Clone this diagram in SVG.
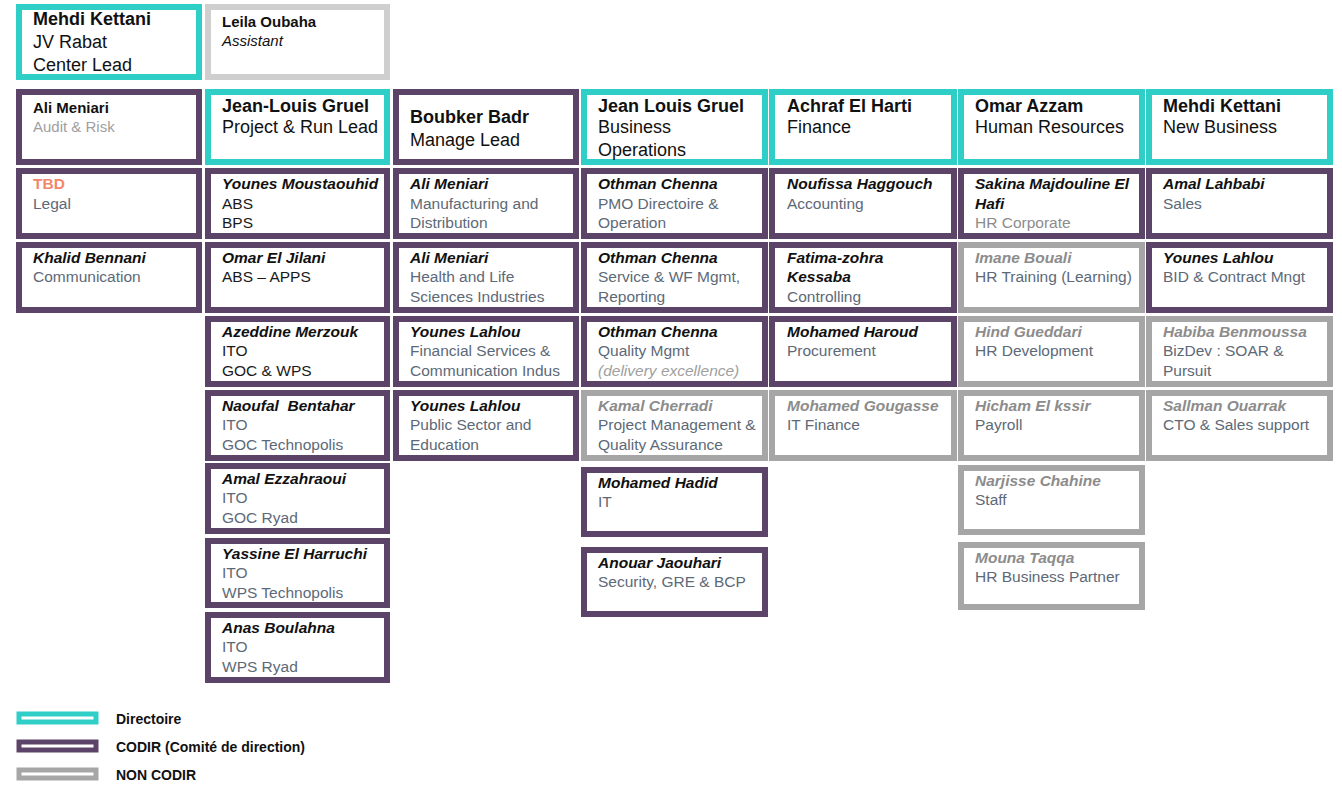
<svg xmlns="http://www.w3.org/2000/svg" width="1342" height="812" viewBox="0 0 1342 812">
<style>
text{font-family:"Liberation Sans",Arial,sans-serif;}
.dir{fill:#fff;stroke:#2fcfc7;stroke-width:6;}
.cod{fill:#fff;stroke:#5c4468;stroke-width:6;}
.non{fill:#fff;stroke:#a6a6a6;stroke-width:6;}
.ast{fill:#fff;stroke:#cfcfcf;stroke-width:6;}
.h{font-size:18px;fill:#111;}
.hb{font-size:18px;font-weight:bold;fill:#111;}
.s{font-size:15px;fill:#111;}
.sb{font-size:15px;font-weight:bold;fill:#111;}
.n{font-size:15.5px;font-weight:bold;font-style:italic;fill:#111;}
.ng{font-size:15.5px;font-weight:bold;font-style:italic;fill:#8c8c8c;}
.t{font-size:15.5px;fill:#5d6977;}
.tk{font-size:15.5px;fill:#1a1a1a;}
.tg{font-size:15.5px;fill:#8c8c8c;}
.lg{font-size:14px;font-weight:bold;fill:#111;}
</style>
<rect width="1342" height="812" fill="#fff"/>

<!-- Row 1 -->
<g id="mehdi-kettani-jv"><rect class="dir" x="19" y="7" width="180" height="70"/>
<text class="hb" x="33" y="25">Mehdi Kettani</text><text class="h" x="33" y="48">JV Rabat</text><text class="h" x="33" y="71">Center Lead</text></g>
<g id="leila-oubaha"><rect class="ast" x="208" y="7" width="179" height="70"/>
<text class="sb" x="222" y="27">Leila Oubaha</text><text class="s" x="222" y="46" font-style="italic">Assistant</text></g>

<!-- Row 2 -->
<g id="ali-meniari-audit"><rect class="cod" x="19" y="92" width="180" height="70"/>
<text class="sb" x="33" y="113">Ali Meniari</text><text class="s" x="33" y="132" style="fill:#a0a0a0">Audit &amp; Risk</text></g>
<g id="jean-louis-gruel-project"><rect class="dir" x="208" y="92" width="179" height="70"/>
<text class="hb" x="222" y="112">Jean-Louis Gruel</text><text class="h" x="222" y="133">Project &amp; Run Lead</text></g>
<g id="boubker-badr"><rect class="cod" x="396" y="92" width="180" height="70"/>
<text class="hb" x="410" y="123">Boubker Badr</text><text class="h" x="410" y="146">Manage Lead</text></g>
<g id="jean-louis-gruel-business"><rect class="dir" x="584" y="92" width="181" height="70"/>
<text class="hb" x="598" y="112">Jean Louis Gruel</text><text class="h" x="598" y="133">Business</text><text class="h" x="598" y="156">Operations</text></g>
<g id="achraf-el-harti"><rect class="dir" x="772" y="92" width="182" height="70"/>
<text class="hb" x="787" y="112">Achraf El Harti</text><text class="h" x="787" y="133">Finance</text></g>
<g id="omar-azzam"><rect class="dir" x="961" y="92" width="181" height="70"/>
<text class="hb" x="975" y="112">Omar Azzam</text><text class="h" x="975" y="133">Human Resources</text></g>
<g id="mehdi-kettani-nb"><rect class="dir" x="1149" y="92" width="181" height="70"/>
<text class="hb" x="1163" y="112">Mehdi Kettani</text><text class="h" x="1163" y="133">New Business</text></g>

<!-- Column 1 -->
<g id="tbd-legal"><rect class="cod" x="19" y="171" width="180" height="65"/>
<text x="33" y="189" style="font-size:15.5px;font-weight:bold;fill:#f4876b">TBD</text><text class="t" x="33" y="209">Legal</text></g>
<g id="khalid-bennani"><rect class="cod" x="19" y="245" width="180" height="65"/>
<text class="n" x="33" y="263">Khalid Bennani</text><text class="t" x="33" y="282">Communication</text></g>

<!-- Column 2 -->
<g id="younes-moustaouhid"><rect class="cod" x="208" y="171" width="179" height="65"/>
<text class="n" x="222" y="189">Younes Moustaouhid</text><text class="tk" x="222" y="209">ABS</text><text class="tk" x="222" y="228">BPS</text></g>
<g id="omar-el-jilani"><rect class="cod" x="208" y="245" width="179" height="65"/>
<text class="n" x="222" y="263">Omar El Jilani</text><text class="tk" x="222" y="282">ABS – APPS</text></g>
<g id="azeddine-merzouk"><rect class="cod" x="208" y="319" width="179" height="65"/>
<text class="n" x="222" y="337">Azeddine Merzouk</text><text class="tk" x="222" y="356">ITO</text><text class="tk" x="222" y="376">GOC &amp; WPS</text></g>
<g id="naoufal-bentahar"><rect class="cod" x="208" y="393" width="179" height="65"/>
<text class="n" x="222" y="411" xml:space="preserve">Naoufal  Bentahar</text><text class="t" x="222" y="430">ITO</text><text class="t" x="222" y="450">GOC Technopolis</text></g>
<g id="amal-ezzahraoui"><rect class="cod" x="208" y="466" width="179" height="65"/>
<text class="n" x="222" y="484">Amal Ezzahraoui</text><text class="t" x="222" y="503">ITO</text><text class="t" x="222" y="523">GOC Ryad</text></g>
<g id="yassine-el-harruchi"><rect class="cod" x="208" y="541" width="179" height="64"/>
<text class="n" x="222" y="559">Yassine El Harruchi</text><text class="t" x="222" y="578">ITO</text><text class="t" x="222" y="598">WPS Technopolis</text></g>
<g id="anas-boulahna"><rect class="cod" x="208" y="615" width="179" height="65"/>
<text class="n" x="222" y="633">Anas Boulahna</text><text class="t" x="222" y="652">ITO</text><text class="t" x="222" y="672">WPS Ryad</text></g>

<!-- Column 3 -->
<g id="ali-meniari-manufacturing"><rect class="cod" x="396" y="171" width="180" height="65"/>
<text class="n" x="410" y="189">Ali Meniari</text><text class="t" x="410" y="209">Manufacturing and</text><text class="t" x="410" y="228">Distribution</text></g>
<g id="ali-meniari-health"><rect class="cod" x="396" y="245" width="180" height="65"/>
<text class="n" x="410" y="263">Ali Meniari</text><text class="t" x="410" y="282">Health and Life</text><text class="t" x="410" y="302">Sciences Industries</text></g>
<g id="younes-lahlou-financial"><rect class="cod" x="396" y="319" width="180" height="65"/>
<text class="n" x="410" y="337">Younes Lahlou</text><text class="t" x="410" y="356">Financial Services &amp;</text><text class="t" x="410" y="376">Communication Indus</text></g>
<g id="younes-lahlou-public"><rect class="cod" x="396" y="393" width="180" height="65"/>
<text class="n" x="410" y="411">Younes Lahlou</text><text class="t" x="410" y="430">Public Sector and</text><text class="t" x="410" y="450">Education</text></g>

<!-- Column 4 -->
<g id="othman-chenna-pmo"><rect class="cod" x="584" y="171" width="181" height="65"/>
<text class="n" x="598" y="189">Othman Chenna</text><text class="t" x="598" y="209">PMO Directoire &amp;</text><text class="t" x="598" y="228">Operation</text></g>
<g id="othman-chenna-service"><rect class="cod" x="584" y="245" width="181" height="65"/>
<text class="n" x="598" y="263">Othman Chenna</text><text class="t" x="598" y="282">Service &amp; WF Mgmt,</text><text class="t" x="598" y="302">Reporting</text></g>
<g id="othman-chenna-quality"><rect class="cod" x="584" y="319" width="181" height="65"/>
<text class="n" x="598" y="337">Othman Chenna</text><text class="t" x="598" y="356">Quality Mgmt</text><text class="tg" x="598" y="376" font-style="italic" style="fill:#a0a0a0">(delivery excellence)</text></g>
<g id="kamal-cherradi"><rect class="non" x="584" y="393" width="181" height="65"/>
<text class="ng" x="598" y="411">Kamal Cherradi</text><text class="t" x="598" y="430">Project Management &amp;</text><text class="t" x="598" y="450">Quality Assurance</text></g>
<g id="mohamed-hadid"><rect class="cod" x="584" y="470" width="181" height="64"/>
<text class="n" x="598" y="488">Mohamed Hadid</text><text class="t" x="598" y="507">IT</text></g>
<g id="anouar-jaouhari"><rect class="cod" x="584" y="550" width="181" height="64"/>
<text class="n" x="598" y="568">Anouar Jaouhari</text><text class="t" x="598" y="587">Security, GRE &amp; BCP</text></g>

<!-- Column 5 -->
<g id="noufissa-haggouch"><rect class="cod" x="772" y="171" width="182" height="65"/>
<text class="n" x="787" y="189">Noufissa Haggouch</text><text class="t" x="787" y="209">Accounting</text></g>
<g id="fatima-zohra-kessaba"><rect class="cod" x="772" y="245" width="182" height="65"/>
<text class="n" x="787" y="263">Fatima-zohra</text><text class="n" x="787" y="282">Kessaba</text><text class="t" x="787" y="302">Controlling</text></g>
<g id="mohamed-haroud"><rect class="cod" x="772" y="319" width="182" height="65"/>
<text class="n" x="787" y="337">Mohamed Haroud</text><text class="t" x="787" y="356">Procurement</text></g>
<g id="mohamed-gougasse"><rect class="non" x="772" y="393" width="182" height="65"/>
<text class="ng" x="787" y="411">Mohamed Gougasse</text><text class="t" x="787" y="430">IT Finance</text></g>

<!-- Column 6 -->
<g id="sakina-majdouline"><rect class="cod" x="961" y="171" width="181" height="65"/>
<text class="n" x="975" y="189">Sakina Majdouline El</text><text class="n" x="975" y="209">Hafi</text><text class="tg" x="975" y="228">HR Corporate</text></g>
<g id="imane-bouali"><rect class="non" x="961" y="245" width="181" height="65"/>
<text class="ng" x="975" y="263">Imane Bouali</text><text class="t" x="975" y="282">HR Training (Learning)</text></g>
<g id="hind-gueddari"><rect class="non" x="961" y="319" width="181" height="65"/>
<text class="ng" x="975" y="337">Hind Gueddari</text><text class="t" x="975" y="356">HR Development</text></g>
<g id="hicham-el-kssir"><rect class="non" x="961" y="393" width="181" height="65"/>
<text class="ng" x="975" y="411">Hicham El kssir</text><text class="t" x="975" y="430">Payroll</text></g>
<g id="narjisse-chahine"><rect class="non" x="961" y="468" width="181" height="64"/>
<text class="ng" x="975" y="486">Narjisse Chahine</text><text class="t" x="975" y="505">Staff</text></g>
<g id="mouna-taqqa"><rect class="non" x="961" y="545" width="181" height="62"/>
<text class="ng" x="975" y="563">Mouna Taqqa</text><text class="t" x="975" y="582">HR Business Partner</text></g>

<!-- Column 7 -->
<g id="amal-lahbabi"><rect class="cod" x="1149" y="171" width="181" height="65"/>
<text class="n" x="1163" y="189">Amal Lahbabi</text><text class="t" x="1163" y="209">Sales</text></g>
<g id="younes-lahlou-bid"><rect class="cod" x="1149" y="245" width="181" height="65"/>
<text class="n" x="1163" y="263">Younes Lahlou</text><text class="t" x="1163" y="282">BID &amp; Contract Mngt</text></g>
<g id="habiba-benmoussa"><rect class="non" x="1149" y="319" width="181" height="65"/>
<text class="ng" x="1163" y="337">Habiba Benmoussa</text><text class="t" x="1163" y="356">BizDev : SOAR &amp;</text><text class="t" x="1163" y="376">Pursuit</text></g>
<g id="sallman-ouarrak"><rect class="non" x="1149" y="393" width="181" height="65"/>
<text class="ng" x="1163" y="411">Sallman Ouarrak</text><text class="t" x="1163" y="430">CTO &amp; Sales support</text></g>

<g id="connectors"></g>

<!-- Legend -->
<g id="legend">
<rect class="dir" x="19" y="714" width="77" height="8" style="stroke-width:5"/>
<text class="lg" x="116" y="724">Directoire</text>
<rect class="cod" x="19" y="742" width="77" height="8" style="stroke-width:5"/>
<text class="lg" x="116" y="752">CODIR (Comité de direction)</text>
<rect class="non" x="19" y="770" width="77" height="8" style="stroke-width:5"/>
<text class="lg" x="116" y="780">NON CODIR</text>
</g>
</svg>
